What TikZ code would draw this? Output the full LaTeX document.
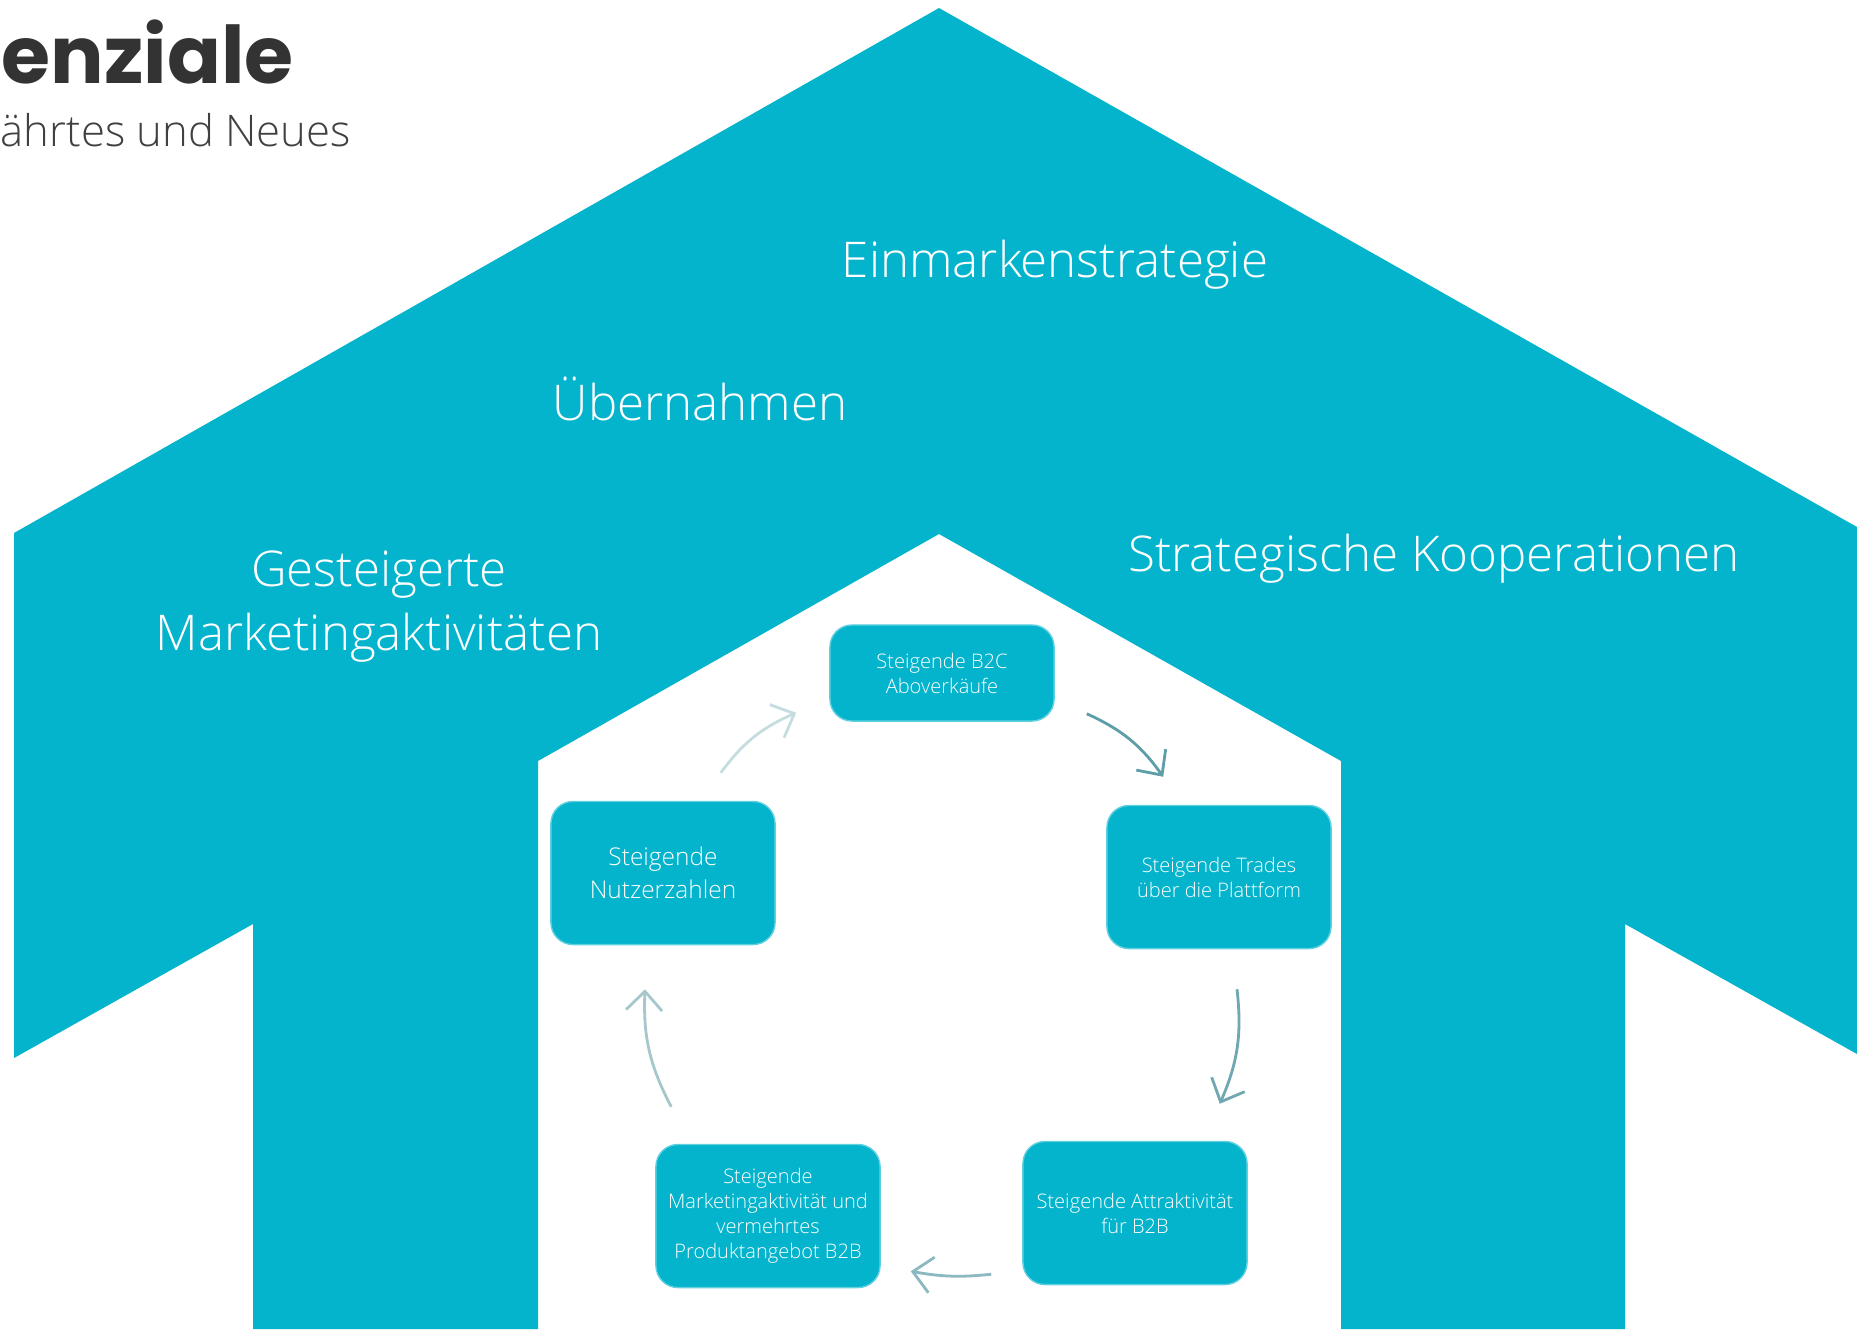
\documentclass[tikz,border=0pt]{standalone}
\usepackage{fontspec}
\setmainfont{Open Sans Light}
\newfontfamily\titlefont{Poppins}
\usetikzlibrary{arrows.meta,calc}

\definecolor{houseteal}{HTML}{03B4CC}
\definecolor{boxedge}{HTML}{5FD0E0}
\definecolor{titlegray}{HTML}{333333}
\definecolor{subgray}{HTML}{404040}
\definecolor{flowa}{HTML}{5E9EA8}
\definecolor{flowb}{HTML}{6FA8B1}
\definecolor{flowc}{HTML}{8BB9BF}
\definecolor{flowd}{HTML}{A6C8CC}
\definecolor{flowe}{HTML}{C6DDE0}

\begin{document}
\begin{tikzpicture}
    % one unit is one pixel of the slide, y runs downwards
    [x=0.01cm, y=-0.01cm,
      label/.style={text=white, anchor=base, align=center, inner sep=0,
        font=\fontsize{14}{18.2}\selectfont},
      box/.style={rectangle, rounded corners=2.2mm, fill=houseteal,
        draw=boxedge, line width=0.4pt, minimum width=2.24cm,
        minimum height=1.43cm, text=white, align=center, inner sep=0.5mm,
        font=\fontsize{5.7}{7.1}\selectfont},
      flow/.style={line width=0.8pt, bend left=15,
        -{Straight Barb[length=1.9mm, width=3.6mm]}}]
    \useasboundingbox (0,0) rectangle (1857,1329);

    % the house with its open middle
    \fill[houseteal] (253,1329) -- (253,924) -- (14,1058) -- (14,533)
      -- (939,8) -- (1857,527) -- (1857,1054) -- (1625,924) -- (1625,1329)
      -- (1341,1329) -- (1341,761) -- (939,534) -- (538,761) -- (538,1329)
      -- cycle;

    % heading, cut off by the slide
    \node[anchor=base west, inner sep=0, text=titlegray,
      font=\titlefont\bfseries\fontsize{22.6}{27}\selectfont] (title) at (1,83) {enziale};
    \node[anchor=base west, inner sep=0, text=subgray,
      font=\fontsize{12.4}{15}\selectfont] (subtitle) at (0,146) {ährtes und Neues};

    % the roof
    \node[label] (marke) at (1055,277) {Einmarkenstrategie};
    \node[label] (uebern) at (700,420) {Übernahmen};
    \node[label] (marketing) at (379,650) {Gesteigerte\\Marketingaktivitäten};
    \node[label] (koop) at (1434,571) {Strategische Kooperationen};

    % the cycle
    \node[box, minimum height=0.96cm] (btoc) at (942,673) {Steigende B2C\\Aboverkäufe};
    \node[box] (trades) at (1219,877) {Steigende Trades\\über die Plattform};
    \node[box] (attrakt) at (1135,1213) {Steigende Attraktivität\\für B2B};
    \node[box] (produkt) at (768,1216) {Steigende\\Marketingaktivität und\\vermehrtes\\Produktangebot B2B};
    \node[box, font=\fontsize{6.95}{9.4}\selectfont] (nutzer) at (663,873) {Steigende\\Nutzerzahlen};

    \draw[flow, flowa] ($(btoc.south east)+(32,-8)$) to ($(trades.north west)+(57,-28)$);
    \draw[flow, flowb] ($(trades.south)+(18,40)$) to ($(attrakt.north east)+(-28,-37)$);
    \draw[flow, flowc, bend left=8] ($(attrakt.south west)+(-31,-11)$) to ($(produkt.south east)+(30,-17)$);
    \draw[flow, flowd] ($(produkt.north west)+(16,-37)$) to ($(nutzer.south)+(-18,44)$);
    \draw[flow, flowe] ($(nutzer.north east)+(-55,-28)$) to ($(btoc.south west)+(-33,-9)$);
\end{tikzpicture}
\end{document}
